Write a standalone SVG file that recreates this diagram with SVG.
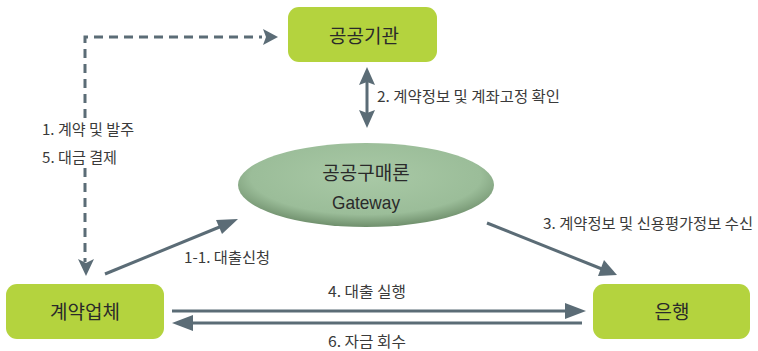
<svg xmlns="http://www.w3.org/2000/svg" width="758" height="351" viewBox="0 0 758 351">
<defs>
<style>
.box{fill:#b4d33e;}
.nt{font-family:"Noto Sans CJK KR","Noto Sans",sans-serif;font-size:19px;fill:#2a2a2a;text-anchor:middle;}
.lb{font-family:"Noto Sans CJK KR","Noto Sans",sans-serif;font-size:15px;fill:#3a3a3a;}
.ln{stroke:#5b6c76;stroke-width:3;fill:none;}
.dash{stroke:#5b6c76;stroke-width:3;fill:none;stroke-dasharray:9,6;}
</style>
<radialGradient id="eg" cx="0.5" cy="0.4" r="0.6">
<stop offset="0" stop-color="#a9c9a6"/>
<stop offset="0.75" stop-color="#9bbd99"/>
<stop offset="1" stop-color="#6f8f6c"/>
</radialGradient>
</defs>
<g id="connectors">
<polyline class="dash" points="85,118 85,37 262,37"/>
<line class="dash" x1="85" y1="168" x2="85" y2="262"/>
<path d="M263,29 L278,37 L263,45 L266,37 z" fill="#5b6c76"/>
<path d="M78,259 L86,276 L94,259 L86,263 z" fill="#5b6c76"/>
<line class="ln" x1="367" y1="80" x2="367" y2="115"/>
<path d="M359,85 L367,67 L375,85 L367,82 z" fill="#5b6c76"/>
<path d="M359,110 L367,128 L375,110 L367,113 z" fill="#5b6c76"/>
<line class="ln" x1="105" y1="274" x2="222" y2="226"/>
<path d="M216,220 L238,219 L222,234 z" fill="#5b6c76"/>
<line class="ln" x1="487" y1="223" x2="602" y2="269"/>
<path d="M598,276 L617,275 L604,260 z" fill="#5b6c76"/>
<line class="ln" x1="172" y1="311" x2="570" y2="311"/>
<path d="M565,303 L586,311 L565,319 z" fill="#5b6c76"/>
<line class="ln" x1="187" y1="323" x2="582" y2="323"/>
<path d="M193,315 L172,323 L193,331 z" fill="#5b6c76"/>
</g>
<g id="node-public">
<rect class="box" x="288" y="7" width="149" height="55" rx="11"/>
<text class="nt" x="364" y="43" font-size="20">공공기관</text>
</g>
<g id="node-gateway">
<ellipse cx="366" cy="185" rx="128" ry="42" fill="url(#eg)"/>
<text class="nt" x="366" y="180" font-size="19">공공구매론</text>
<text x="366" y="209" font-family="Liberation Sans Narrow,Liberation Sans,sans-serif" font-size="19" fill="#2a2a2a" text-anchor="middle" textLength="68" lengthAdjust="spacingAndGlyphs">Gateway</text>
</g>
<g id="node-company">
<rect class="box" x="6" y="284" width="158" height="55" rx="11"/>
<text class="nt" x="85" y="319" font-size="20">계약업체</text>
</g>
<g id="node-bank">
<rect class="box" x="593" y="284" width="157" height="55" rx="11"/>
<text class="nt" x="672" y="319" font-size="20">은행</text>
</g>
<g id="labels">
<text class="lb" x="377" y="102" textLength="183" lengthAdjust="spacingAndGlyphs">2. 계약정보 및 계좌고정 확인</text>
<text class="lb" x="42" y="135" textLength="92" lengthAdjust="spacingAndGlyphs">1. 계약 및 발주</text>
<text class="lb" x="42" y="163" textLength="75" lengthAdjust="spacingAndGlyphs">5. 대금 결제</text>
<text class="lb" x="184" y="263" textLength="86" lengthAdjust="spacingAndGlyphs">1-1. 대출신청</text>
<text class="lb" x="543" y="229" textLength="210" lengthAdjust="spacingAndGlyphs">3. 계약정보 및 신용평가정보 수신</text>
<text class="lb" x="328" y="297" textLength="78" lengthAdjust="spacingAndGlyphs">4. 대출 실행</text>
<text class="lb" x="328" y="347" textLength="78" lengthAdjust="spacingAndGlyphs">6. 자금 회수</text>
</g>
</svg>
